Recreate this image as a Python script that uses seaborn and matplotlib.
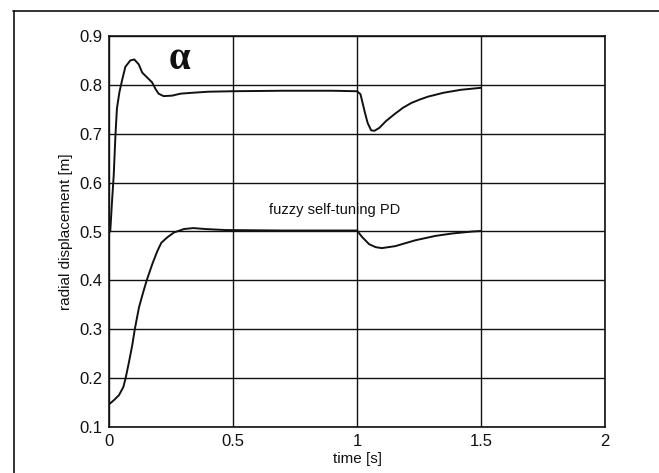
import numpy as np
import pandas as pd
import seaborn as sns
import matplotlib
matplotlib.use("Agg")
import matplotlib.pyplot as plt
from matplotlib.lines import Line2D

# ---- data ----
upper_t = [0.0, 0.005, 0.012, 0.019, 0.026, 0.032, 0.042, 0.053, 0.066, 0.086,
           0.102, 0.12, 0.134, 0.154, 0.174, 0.187, 0.2, 0.22, 0.255, 0.288,
           0.34, 0.4, 0.5, 0.7, 0.9, 1.0, 1.014, 1.023, 1.032, 1.043, 1.057,
           1.07, 1.09, 1.117, 1.151, 1.185, 1.219, 1.253, 1.287, 1.35, 1.42, 1.5]
upper_v = [0.50, 0.50, 0.56, 0.615, 0.697, 0.752, 0.785, 0.81, 0.837, 0.850,
           0.852, 0.842, 0.825, 0.815, 0.805, 0.792, 0.782, 0.777, 0.778, 0.782,
           0.784, 0.786, 0.787, 0.788, 0.788, 0.787, 0.781, 0.762, 0.743, 0.722, 0.707,
           0.706, 0.712, 0.726, 0.740, 0.753, 0.763, 0.770, 0.776, 0.784, 0.790, 0.794]

lower_t = [0.0, 0.004, 0.02, 0.04, 0.058, 0.067, 0.081, 0.094, 0.104, 0.121,
           0.138, 0.152, 0.175, 0.195, 0.211, 0.235, 0.262, 0.302, 0.34, 0.39,
           0.47, 0.7, 0.9, 1.0, 1.02, 1.049, 1.075, 1.10, 1.154, 1.235, 1.316,
           1.385, 1.466, 1.5]
lower_v = [0.148, 0.148, 0.155, 0.165, 0.182, 0.200, 0.234, 0.268, 0.300, 0.345,
           0.376, 0.400, 0.434, 0.460, 0.477, 0.488, 0.498, 0.505, 0.507, 0.505,
           0.503, 0.502, 0.502, 0.502, 0.489, 0.474, 0.468, 0.466, 0.470, 0.482, 0.491,
           0.496, 0.500, 0.501]

x_ticks = [0, 0.5, 1, 1.5, 2]
x_ticklabels = ["0", "0.5", "1", "1.5", "2"]
y_ticks = [0.1, 0.2, 0.3, 0.4, 0.5, 0.6, 0.7, 0.8, 0.9]
y_ticklabels = ["0.1", "0.2", "0.3", "0.4", "0.5", "0.6", "0.7", "0.8", "0.9"]

df_upper = pd.DataFrame({"t": upper_t, "v": upper_v})
df_lower = pd.DataFrame({"t": lower_t, "v": lower_v})

sns.set_style("white")
plt.rcParams["font.family"] = ["Liberation Sans", "DejaVu Sans"]

fig = plt.figure(figsize=(6.59, 4.73), dpi=100)
ax = fig.add_axes([109/659, 1-427/473, 496/659, 391/473])

sns.lineplot(data=df_upper, x="t", y="v", ax=ax, color="#111111", linewidth=1.4, sort=False)
sns.lineplot(data=df_lower, x="t", y="v", ax=ax, color="#111111", linewidth=1.4, sort=False)

ax.set_xlim(0, 2)
ax.set_ylim(0.1, 0.9)
ax.set_xticks(x_ticks)
ax.set_xticklabels(x_ticklabels)
ax.set_yticks(y_ticks)
ax.set_yticklabels(y_ticklabels)
ax.tick_params(axis="both", length=0, labelsize=12, colors="#111111")
ax.tick_params(axis="y", pad=5)
ax.tick_params(axis="x", pad=5)
ax.grid(True, color="#111111", linewidth=1.0)
ax.set_axisbelow(True)
for s in ax.spines.values():
    s.set_visible(True)
    s.set_color("#111111")
    s.set_linewidth(1.2)

ax.set_xlabel("time [s]", fontsize=11, labelpad=2, color="#111111")
ax.set_ylabel("radial displacement [m]", fontsize=11, labelpad=4, color="#111111")

ax.text(0.91, 0.545, "fuzzy self-tuning PD", fontsize=10.5, ha="center", va="center", color="#111111")
ax.text(0.285, 0.851, "α", fontsize=28, fontweight="bold", family="Liberation Serif",
        ha="center", va="center", color="#111111")

# scanned page frame
fig.add_artist(Line2D([13/659, 1.0], [1-11/473, 1-11/473], transform=fig.transFigure,
                      color="#111111", linewidth=1.2))
fig.add_artist(Line2D([14/659, 14/659], [0.0, 1-11/473], transform=fig.transFigure,
                      color="#111111", linewidth=1.2))

fig.savefig("out.png", dpi=100)
